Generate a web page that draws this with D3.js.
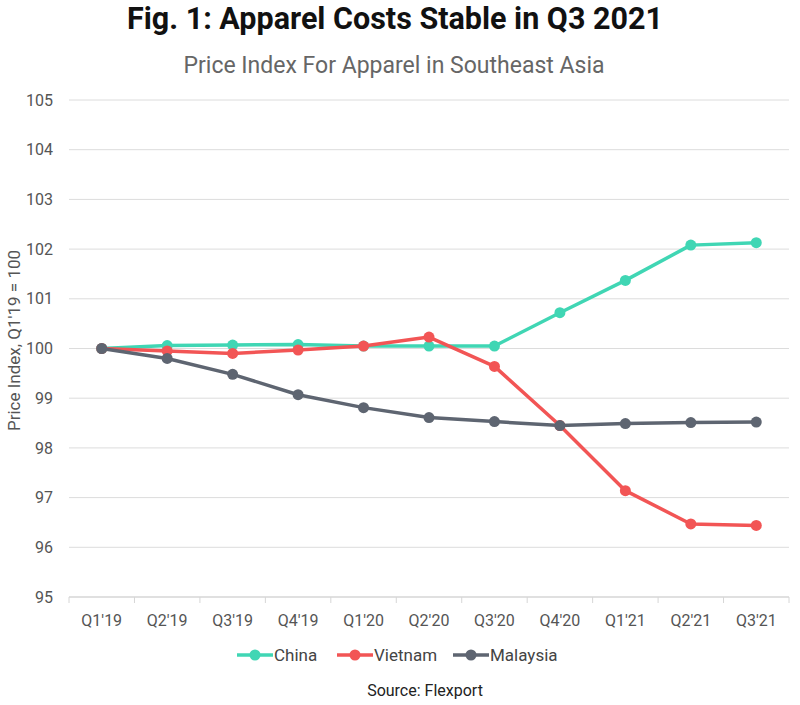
<!DOCTYPE html>
<html>
<head>
<meta charset="utf-8">
<script src="https://cdn.jsdelivr.net/npm/d3@7"></script>
<style>
  body { margin: 0; background: #fff; }
  text { font-family: Roboto, sans-serif; }
</style>
</head>
<body>
<svg id="chart"></svg>
<script>
// Chart data
const quarters = ["Q1'19", "Q2'19", "Q3'19", "Q4'19", "Q1'20", "Q2'20", "Q3'20", "Q4'20", "Q1'21", "Q2'21", "Q3'21"];
const china    = [100, 100.06, 100.07, 100.08, 100.05, 100.05, 100.05, 100.72, 101.37, 102.08, 102.13];
const vietnam  = [100, 99.95, 99.90, 99.97, 100.05, 100.23, 99.64, 98.45, 97.14, 96.47, 96.44];
const malaysia = [100, 99.80, 99.48, 99.07, 98.81, 98.61, 98.53, 98.45, 98.49, 98.51, 98.52];
const yTicks   = [95, 96, 97, 98, 99, 100, 101, 102, 103, 104, 105];

const series = [
  {name: "China", values: china, color: "#40d6b4"},
  {name: "Vietnam", values: vietnam, color: "#f25555"},
  {name: "Malaysia", values: malaysia, color: "#5e6571"}
];

let width = 800, height = 705;
let margin = {top: 100, right: 11, bottom: 108, left: 69};

let svg = d3.select("#chart")
    .attr("width", width)
    .attr("height", height);

// Title and subtitle
svg.append("text")
  .attr("x", 395).attr("y", 29)
  .attr("text-anchor", "middle")
  .style("font-weight", "bold")
  .style("font-size", "30.5px")
  .style("fill", "#111")
  .text("Fig. 1: Apparel Costs Stable in Q3 2021");

svg.append("text")
  .attr("x", 394).attr("y", 73)
  .attr("text-anchor", "middle")
  .style("font-size", "23px")
  .style("fill", "#666")
  .text("Price Index For Apparel in Southeast Asia");

let x = d3.scaleBand()
  .domain(quarters)
  .range([margin.left, width - margin.right]);

let y = d3.scaleLinear()
  .domain([95, 105])
  .range([height - margin.bottom, margin.top]);

// Gridlines
svg.append("g")
  .selectAll("line")
  .data(yTicks.slice(1))
  .join("line")
    .attr("x1", margin.left).attr("x2", width - margin.right)
    .attr("y1", d => y(d)).attr("y2", d => y(d))
    .attr("stroke", "#dcdcdc")
    .attr("stroke-width", 1);

// Y axis
let yAxis = svg.append("g")
  .attr("transform", `translate(${margin.left - 16}, 0)`)
  .call(d3.axisLeft(y).tickValues(yTicks).tickSize(0).tickPadding(0));
yAxis.select(".domain").remove();
yAxis.selectAll("text")
  .style("font-family", "Roboto, sans-serif")
  .style("font-size", "16px")
  .style("fill", "#555");

// X axis with ticks on band edges
let xAxis = svg.append("g")
  .attr("transform", `translate(0, ${y(95)})`);
xAxis.append("line")
  .attr("x1", margin.left).attr("x2", width - margin.right)
  .attr("stroke", "#d6d6d6").attr("stroke-width", 1.5);
xAxis.selectAll("line.tick")
  .data(quarters.concat(["end"]))
  .join("line")
    .attr("class", "tick")
    .attr("x1", (d, i) => margin.left + i * x.step())
    .attr("x2", (d, i) => margin.left + i * x.step())
    .attr("y1", 0).attr("y2", 6)
    .attr("stroke", "#d6d6d6");
xAxis.selectAll("text")
  .data(quarters)
  .join("text")
    .attr("x", d => x(d) + x.bandwidth() / 2)
    .attr("y", 29)
    .attr("text-anchor", "middle")
    .style("font-size", "16px")
    .style("fill", "#555")
    .text(d => d);

// Y axis label
svg.append("text")
  .attr("transform", `translate(20, ${y(100) - 8}) rotate(-90)`)
  .attr("text-anchor", "middle")
  .style("font-size", "17px")
  .style("fill", "#555")
  .text("Price Index, Q1'19 = 100");

// Lines and markers
let line = d3.line()
  .x((d, i) => x(quarters[i]) + x.bandwidth() / 2)
  .y(d => y(d));

series.forEach(s => {
  let g = svg.append("g");
  g.append("path")
    .datum(s.values)
    .attr("fill", "none")
    .attr("stroke", s.color)
    .attr("stroke-width", 3.5)
    .attr("stroke-linejoin", "round")
    .attr("d", line);
  g.selectAll("circle")
    .data(s.values)
    .join("circle")
      .attr("cx", (d, i) => x(quarters[i]) + x.bandwidth() / 2)
      .attr("cy", d => y(d))
      .attr("r", 5.5)
      .attr("fill", s.color);
});

// Legend
let legendX = [237, 337, 453];
let legend = svg.append("g").attr("transform", "translate(0, 655)");
series.forEach((s, i) => {
  let g = legend.append("g").attr("transform", `translate(${legendX[i]}, 0)`);
  g.append("line")
    .attr("x1", 0).attr("x2", 36)
    .attr("stroke", s.color).attr("stroke-width", 3.5);
  g.append("circle")
    .attr("cx", 18).attr("r", 5.5)
    .attr("fill", s.color);
  g.append("text")
    .attr("x", 37).attr("y", 6)
    .style("font-size", "17px")
    .style("fill", "#444")
    .text(s.name);
});

// Source
svg.append("text")
  .attr("x", 425).attr("y", 696)
  .attr("text-anchor", "middle")
  .style("font-size", "16px")
  .style("fill", "#222")
  .text("Source: Flexport");
</script>
</body>
</html>
